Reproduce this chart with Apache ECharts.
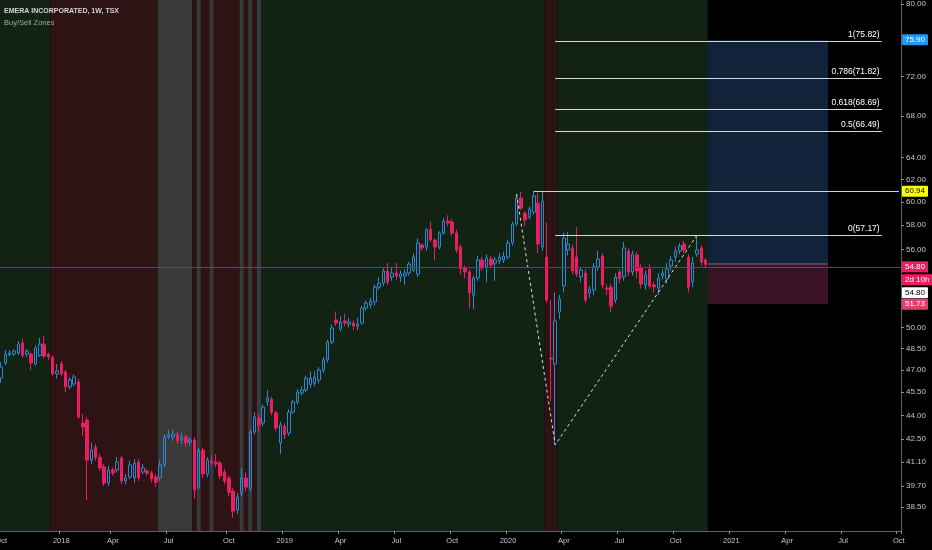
<!DOCTYPE html>
<html><head><meta charset="utf-8">
<script src="https://cdn.jsdelivr.net/npm/echarts@6/dist/echarts.min.js"></script>
<style>html,body{margin:0;padding:0;background:#000}#c{width:932px;height:550px}</style>
</head><body><div id="c"></div>
<script>
// ---- data (weekly bars, EMERA INCORPORATED, TSX) ----
const startDate = '2017-09-25';
const weekCount = 210;
const open = [46.45,47.48,48.03,48.10,48.17,48.88,48.10,48.10,47.41,48.00,48.80,48.10,47.89,46.73,47.41,46.86,45.85,46.05,46.19,43.51,
43.70,41.23,42.00,41.40,40.82,39.87,40.64,40.64,41.35,39.99,40.23,40.17,41.11,40.52,40.58,40.46,40.23,40.17,40.94,42.64,
42.64,42.82,42.45,42.64,42.33,42.45,39.64,41.83,40.41,41.17,41.11,41.05,40.52,40.17,39.41,38.34,39.29,40.17,39.58,42.95,
43.83,43.51,44.86,45.05,44.15,42.27,43.32,42.88,44.21,44.86,45.45,45.65,45.99,46.10,46.32,46.99,47.69,48.95,50.54,49.88,
50.47,50.24,50.32,50.10,50.32,51.42,51.65,51.88,53.01,53.33,54.27,53.80,54.11,53.80,53.90,54.11,54.35,54.03,56.36,56.19,
57.68,56.77,56.19,57.35,58.35,58.27,57.35,56.19,54.51,54.19,52.41,53.72,55.14,54.59,55.22,54.90,55.06,55.14,55.38,56.52,
58.10,60.35,59.03,58.69,59.12,59.90,56.19,55.38,47.82,47.41,51.12,53.10,55.95,56.11,55.38,53.80,54.11,52.56,52.79,54.59,
55.46,52.94,53.01,52.03,54.19,53.80,55.87,54.19,55.54,54.51,53.18,54.43,53.18,52.94,53.88,53.64,54.67,55.38,55.87,56.44,
55.38,53.41,55.63,56.11,55.14];
const high = [47.55,48.38,48.38,48.45,49.02,49.20,48.45,48.20,48.70,49.24,49.38,48.20,48.00,47.40,47.60,47.00,46.50,46.70,46.40,44.10,
43.90,42.30,42.20,41.60,41.00,40.90,40.80,41.41,41.50,40.40,41.20,41.30,41.30,41.00,40.70,40.60,40.40,41.20,42.80,43.07,
43.10,43.00,42.90,42.80,42.60,42.60,42.00,42.00,41.40,41.50,41.60,41.20,40.70,40.30,39.60,39.30,40.76,40.50,43.10,44.20,
44.10,44.70,45.65,45.20,44.30,43.60,43.50,44.40,45.00,45.70,45.90,46.60,46.90,46.90,47.20,47.90,49.10,50.20,51.17,50.80,
51.00,50.70,50.50,50.70,51.60,52.00,52.20,53.20,53.80,54.50,54.90,54.60,54.90,54.30,54.40,55.00,55.70,56.90,56.50,57.80,
58.35,56.90,57.50,58.60,58.85,58.50,57.60,56.40,54.70,54.40,53.90,55.50,55.40,55.60,55.50,55.40,55.70,55.80,56.80,58.30,
60.70,60.90,59.20,59.60,60.94,60.80,60.90,58.20,52.03,52.60,52.40,57.40,57.43,56.40,57.85,54.60,54.40,53.10,54.90,55.90,
55.70,53.20,53.30,54.10,54.40,56.60,56.10,55.90,55.80,54.80,54.30,54.80,53.40,54.10,54.40,54.90,55.50,56.20,56.50,56.70,
55.60,55.40,57.17,56.30,55.30];
const low = [46.12,47.34,47.95,47.96,48.03,47.85,47.90,47.00,47.30,47.90,47.80,47.70,46.60,46.40,46.60,45.50,45.70,45.90,43.80,42.70,
38.90,41.00,41.20,40.60,39.70,39.70,40.30,40.50,39.80,39.80,40.10,39.90,40.00,40.40,40.30,39.90,39.64,40.00,40.80,42.50,
42.40,42.20,42.20,42.00,42.10,39.00,39.50,40.20,40.20,40.90,40.80,40.10,39.80,39.10,37.90,38.10,39.10,39.40,39.40,42.80,
43.00,43.30,44.60,44.00,43.00,41.60,42.50,42.70,44.10,44.70,45.30,45.50,45.80,45.90,46.10,46.80,47.50,48.80,50.10,49.70,
50.10,50.00,49.80,49.80,50.20,51.20,51.40,51.60,52.80,53.10,53.20,53.50,53.60,53.40,53.20,53.90,54.20,53.80,55.90,55.90,
56.60,55.14,56.00,57.20,57.90,57.10,55.70,54.00,53.70,51.40,51.35,53.50,54.30,53.40,54.50,53.50,54.80,54.90,55.20,56.30,
57.90,59.30,57.90,58.50,58.90,55.70,55.90,51.80,44.93,42.15,50.60,52.60,55.50,54.00,53.80,53.40,51.80,52.20,52.40,54.30,
52.90,52.40,51.10,51.80,53.30,53.50,53.90,53.90,53.70,52.90,52.80,52.90,52.60,52.40,53.60,53.30,54.30,55.00,55.60,55.70,
52.60,53.00,55.40,54.70,54.50];
const close = [47.20,48.10,48.17,48.31,48.80,48.00,48.30,47.48,48.52,48.80,47.96,47.89,46.73,46.93,46.73,45.85,46.32,46.52,43.89,43.26,
41.23,41.83,41.40,40.76,39.87,40.64,40.46,41.11,39.99,40.17,40.94,41.05,40.17,40.76,40.46,40.11,39.93,40.94,42.64,42.76,
42.82,42.39,42.64,42.27,42.45,39.47,41.83,40.41,41.23,41.05,40.99,40.29,39.99,39.35,38.28,39.07,40.17,39.64,42.95,43.89,
43.38,44.53,45.12,44.21,43.20,43.38,42.76,44.21,44.86,45.52,45.65,46.45,46.45,46.50,46.99,47.69,48.95,49.96,50.32,50.39,
50.32,50.39,50.10,50.24,51.42,51.80,51.95,53.01,53.33,54.27,53.40,54.11,53.88,54.03,54.10,54.82,55.38,56.52,56.11,57.60,
56.77,56.19,57.35,58.35,58.19,57.35,55.95,54.43,54.19,52.56,53.72,55.14,54.51,55.30,54.74,55.14,55.38,55.46,56.52,58.10,
60.35,59.46,58.44,59.38,60.52,56.44,60.08,52.03,47.75,50.47,52.11,56.93,56.44,54.27,54.03,54.35,52.03,52.86,54.59,55.22,
53.18,52.86,51.57,53.80,53.64,56.11,54.19,55.63,54.27,53.25,53.96,53.10,53.03,53.72,54.11,54.43,55.14,55.87,56.27,55.95,
53.01,54.90,55.95,54.98,54.80];

// buy / sell zones (week index ranges)
const zoneStart = [0, 12, 37, 45, 46, 47, 49, 50, 56, 57, 58, 59, 60, 61, 127, 130];
const zoneEnd   = [11, 36, 44, 45, 46, 48, 49, 55, 56, 57, 58, 59, 60, 126, 129, 164];
const zoneType  = ['buy','sell','neutral','sell','neutral','sell','neutral','sell','neutral','sell','neutral','sell','neutral','buy','sell','buy'];

// fibonacci levels
const fibLevels = ['1', '0.786', '0.618', '0.5', '0'];
const fibPrices = [75.82, 71.82, 68.69, 66.49, 57.17];
const fibFrom = 129, fibTo = 205;

// resistance line
const resistancePrice = 60.94, resistanceFrom = 124, resistanceTo = 209;

// zigzag swing points
const zigzagIdx = [120, 129, 162];
const zigzagPrice = [60.70, 42.15, 57.17];

// long position tool
const targetPrice = 75.90, entryPrice = 54.80, stopPrice = 51.73;
const positionFrom = 165, positionTo = 192;
const lastPrice = 54.80, countdown = '2d 10h';

// price-scale ticks
const yTicks = [38.5, 39.7, 41.1, 42.5, 44, 45.5, 47, 48.5, 50, 56, 58, 60, 62, 64, 68, 72, 80];
const yMin = 37.19, yMax = 80.47;

// ---- build ----
const L = Math.log;
const MONTHS = ['Jan','Feb','Mar','Apr','May','Jun','Jul','Aug','Sep','Oct','Nov','Dec'];
const t0 = Date.parse(startDate + 'T00:00:00Z');
const cats = [], labelText = {};
for (let i = 0; i < weekCount; i++) {
  const d = new Date(t0 + i * 7 * 864e5);
  const e = new Date(t0 + (i * 7 + 6) * 864e5);
  cats.push(d.toISOString().slice(0, 10));
  let m = -1, y = 0;
  if (d.getUTCDate() === 1) { m = d.getUTCMonth(); y = d.getUTCFullYear(); }
  else if (e.getUTCMonth() !== d.getUTCMonth()) { m = e.getUTCMonth(); y = e.getUTCFullYear(); }
  if (m === 0 || m === 3 || m === 6 || m === 9) labelText[i] = m === 0 ? String(y) : MONTHS[m];
}
const showLabel = (idx) => labelText[idx] !== undefined;

const candles = open.map((o, i) => [L(o), L(close[i]), L(low[i]), L(high[i])]);
const zoneColors = { buy: '#132313', sell: '#2e1315', neutral: '#393939' };
const FONT = '"Liberation Sans", Arial, sans-serif';
const TAG = 8;

const axisTag = (price, text, bg, fg, offY) => ({
  yAxis: L(price),
  lineStyle: { color: 'rgba(0,0,0,0)', width: 0 },
  label: {
    show: true, position: 'end', distance: 1, formatter: text,
    backgroundColor: bg, color: fg, padding: [2, 3, 1, 3], fontSize: TAG, fontFamily: FONT,
    offset: [0, offY || 0], borderRadius: 1
  }
});

const markLines = [];
fibPrices.forEach((p, k) => {
  markLines.push([
    { coord: [fibFrom, L(p)], lineStyle: { color: '#d8d8d8', width: 1, type: 'solid' },
      label: { show: true, position: 'insideEndTop', distance: 2, formatter: fibLevels[k] + '(' + p.toFixed(2) + ')',
               color: '#ffffff', fontSize: 8.5, fontFamily: FONT } },
    { coord: [fibTo, L(p)] }
  ]);
});
markLines.push([
  { coord: [resistanceFrom, L(resistancePrice)], lineStyle: { color: '#d7e36a', width: 1, type: 'solid' }, label: { show: false } },
  { coord: [resistanceTo, L(resistancePrice)] }
]);
markLines.push({ yAxis: L(lastPrice), lineStyle: { color: '#8a3a26', width: 1, type: 'solid' },
  label: { show: true, position: 'end', distance: 1, formatter: lastPrice.toFixed(2), backgroundColor: '#e91e63',
           color: '#fff', padding: [2, 3, 1, 3], fontSize: TAG, fontFamily: FONT } });
markLines.push(axisTag(targetPrice, targetPrice.toFixed(2), '#2196f3', '#fff', 0));
markLines.push(axisTag(resistancePrice, resistancePrice.toFixed(2), '#ffff00', '#000', 0));
markLines.push(axisTag(lastPrice, countdown, '#e91e63', '#fff', 13));
markLines.push(axisTag(entryPrice, entryPrice.toFixed(2), '#ffffff', '#000', 26));
markLines.push(axisTag(stopPrice, stopPrice.toFixed(2), '#e0406e', '#fff', 3));

const chart = echarts.init(document.getElementById('c'), null, { renderer: 'canvas' });
chart.setOption({
  backgroundColor: '#000000',
  animation: false,
  title: {
    text: 'EMERA INCORPORATED, 1W, TSX', subtext: 'Buy/Sell Zones', left: 4, top: 8, itemGap: 4, padding: 0,
    textStyle: { color: '#d1d4dc', fontSize: 7, fontWeight: 'bold', fontFamily: FONT },
    subtextStyle: { color: '#a3a6af', fontSize: 7.5, fontFamily: FONT }
  },
  grid: { left: -1, right: 31, top: 0, bottom: 19, containLabel: false, outerBoundsMode: 'none' },
  xAxis: {
    type: 'category', data: cats, boundaryGap: true,
    axisLine: { show: true, lineStyle: { color: '#5d606b' } },
    axisTick: { show: true, interval: showLabel, length: 3, lineStyle: { color: '#8a8d96' } },
    axisLabel: { interval: showLabel, formatter: (v, i) => labelText[i] || '', color: '#c4c6cc',
                 fontSize: 7.5, fontFamily: FONT, margin: 6, hideOverlap: false },
    splitLine: { show: false }
  },
  yAxis: {
    type: 'value', position: 'right', min: L(yMin), max: L(yMax),
    axisLine: { show: true, lineStyle: { color: '#5d606b' } },
    axisTick: { show: true, customValues: yTicks.map(L), length: 3, lineStyle: { color: '#8a8d96' } },
    axisLabel: { customValues: yTicks.map(L), formatter: v => Math.exp(v).toFixed(2), color: '#c4c6cc',
                 fontSize: TAG, fontFamily: FONT, margin: 5 },
    splitLine: { show: false }
  },
  series: [
    {
      type: 'custom', name: 'zones', z: 0, silent: true, clip: true,
      data: zoneStart.map((s, i) => [s, zoneEnd[i], L(yMin)]),
      encode: { x: [0, 1], y: 2 },
      renderItem(params, api) {
        const bw = api.size([1, 0])[0];
        const a = api.coord([api.value(0), L(yMin)]);
        const b = api.coord([api.value(1), L(yMin)]);
        const cs = params.coordSys;
        return { type: 'rect', shape: { x: a[0] - bw / 2, y: cs.y, width: b[0] - a[0] + bw, height: cs.height },
                 style: { fill: zoneColors[zoneType[params.dataIndex]] } };
      }
    },
    {
      type: 'custom', name: 'position', z: 1, silent: true, clip: true,
      data: [[positionFrom, positionTo, L(entryPrice), L(targetPrice)], [positionFrom, positionTo, L(stopPrice), L(entryPrice)]],
      encode: { x: [0, 1], y: [2, 3] },
      renderItem(params, api) {
        const bw = api.size([1, 0])[0];
        const a = api.coord([api.value(0), api.value(3)]);
        const b = api.coord([api.value(1), api.value(2)]);
        const x0 = a[0] - bw / 2, x1 = b[0] + bw / 2;
        const kids = [{ type: 'rect', shape: { x: x0, y: a[1], width: x1 - x0, height: b[1] - a[1] },
                        style: { fill: params.dataIndex === 0 ? '#10233a' : '#3a1426' } }];
        if (params.dataIndex === 0) kids.push({ type: 'line', shape: { x1: x0, y1: b[1], x2: x1, y2: b[1] },
                                                 style: { stroke: '#e8e8e8', lineWidth: 1 } });
        return { type: 'group', children: kids };
      }
    },
    {
      type: 'candlestick', name: 'EMERA', z: 3, barWidth: 3,
      data: candles,
      itemStyle: { color: 'rgba(0,0,0,0)', color0: '#e91e63', borderColor: '#2f86d2', borderColor0: '#e91e63', borderWidth: 1 },
      emphasis: { disabled: true },
      markLine: { silent: true, symbol: ['none', 'none'], animation: false, emphasis: { disabled: true }, data: markLines }
    },
    {
      type: 'line', name: 'zigzag', z: 4, silent: true, symbol: 'none',
      data: zigzagIdx.map((x, i) => [x, L(zigzagPrice[i])]),
      lineStyle: { color: '#e0e0e0', width: 1, type: [3, 3] }
    }
  ]
});
</script>
</body></html>
